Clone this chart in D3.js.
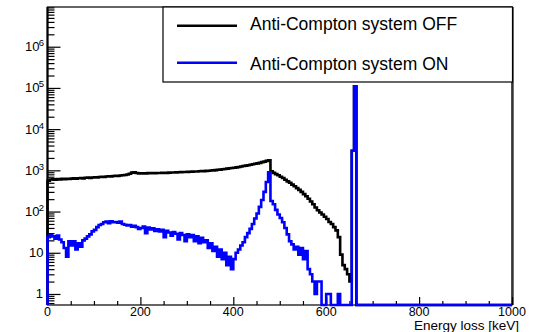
<!DOCTYPE html>
<html>
<head>
<meta charset="utf-8">
<script src="https://cdn.jsdelivr.net/npm/d3@7"></script>
<style>
  html, body { margin: 0; padding: 0; background: #fff; }
  svg { display: block; font-family: "Liberation Sans", Arial, Helvetica, sans-serif; }
</style>
</head>
<body>
<div id="chart"></div>
<script>
// ---- data: 5 keV bins starting at 0 keV (bin i = [5i, 5i+5)) ----
const BIN_WIDTH = 5;

// Anti-Compton system OFF
const offCounts = [
  560, 600, 610, 590, 615, 605, 620, 610, 625, 615,          // 0-45
  630, 640, 625, 645, 650, 640, 660, 665, 655, 670,          // 50-95
  680, 670, 690, 700, 690, 710, 720, 715, 730, 740,          // 100-145
  735, 750, 760, 770, 790, 830, 880, 900, 860, 845,          // 150-195
  840, 850, 845, 855, 850, 860, 855, 865, 860, 870,          // 200-245
  875, 870, 880, 885, 890, 895, 900, 905, 910, 915,          // 250-295
  920, 925, 930, 935, 940, 950, 955, 960, 970, 980,          // 300-345
  990, 1000, 1010, 1030, 1040, 1060, 1080, 1100, 1120, 1140, // 350-395
  1160, 1180, 1210, 1240, 1270, 1300, 1330, 1370, 1400, 1440,// 400-445
  1480, 1520, 1580, 1630, 1700, 1760, 950, 870, 810, 760,    // 450-495
  700, 650, 590, 540, 500, 450, 410, 370, 335, 300,          // 500-545
  265, 235, 205, 175, 150, 125, 108, 95, 85, 75,             // 550-595
  66, 56, 50, 42, 35, 24, 9, 5, 4, 3,                        // 600-645
  2, 3000, 110000, 0                                         // 650-665
];

// Anti-Compton system ON
const onCounts = [
  24, 27, 25, 22, 26, 21, 18, 13, 8, 19,                     // 0-45
  15, 19, 12, 17, 14, 20, 22, 25, 28, 33,                    // 50-95
  36, 42, 47, 50, 55, 57, 52, 58, 55, 56,                    // 100-145
  54, 57, 50, 48, 46, 47, 43, 45, 42, 38,                    // 150-195
  40, 43, 30, 41, 37, 39, 34, 37, 33, 36,                    // 200-245
  24, 34, 31, 26, 32, 29, 21, 30, 27, 19,                    // 250-295
  28, 24, 27, 19, 25, 17, 23, 18, 20, 13,                    // 300-345
  17, 11, 14, 8, 12, 7, 10, 5, 8, 4,                         // 350-395
  7, 10, 12, 15, 18, 24, 30, 38, 50, 68,                     // 400-445
  90, 130, 190, 300, 520, 900, 180, 150, 110, 85,            // 450-495
  70, 55, 40, 28, 19, 16, 12, 14, 9, 13,                     // 500-545
  7, 11, 4, 3, 2, 1, 2, 2, 0, 0,                             // 550-595
  1, 1, 0, 0, 0, 1, 0, 0, 0, 0,                              // 600-645
  0, 3000, 110000, 0                                         // 650-665
];

const seriesNames = ['Anti-Compton system OFF', 'Anti-Compton system ON'];
const seriesColors = ['#000000', '#0000ff'];
const xTickValues = [0, 200, 400, 600, 800, 1000];
const yDecades = [0, 1, 2, 3, 4, 5, 6];
const xTitle = 'Energy loss [keV]';

// ---- layout ----
const width = 537, height = 332;
const frame = { left: 47.5, right: 512, top: 7, bottom: 305 };

const svg = d3.select('#chart')
  .append('svg')
  .attr('width', width)
  .attr('height', height);

// scales
const x = d3.scaleLinear().domain([0, 1000]).range([frame.left, frame.right]);
const y = d3.scaleLog().domain([0.54, 9.2e6]).range([frame.bottom, frame.top]);

// empty bins sit on the bottom of the frame (log scale)
const yv = v => v > 0 ? Math.max(y(v), frame.top) : frame.bottom;

// step outline of a histogram
function histPoints(counts) {
  const pts = [[0, 0]];
  counts.forEach((c, i) => {
    pts.push([i * BIN_WIDTH, c]);
    pts.push([(i + 1) * BIN_WIDTH, c]);
  });
  pts.push([1000, 0]);
  return pts;
}

const line = d3.line()
  .x(d => x(d[0]))
  .y(d => yv(d[1]));

// frame
svg.append('rect')
  .attr('x', frame.left)
  .attr('y', frame.top)
  .attr('width', frame.right - frame.left)
  .attr('height', frame.bottom - frame.top)
  .attr('fill', 'none')
  .attr('stroke', '#000')
  .attr('stroke-width', 1.2);

// slightly heavier right edge, as in the original
svg.append('line')
  .attr('x1', frame.right + 0.6).attr('x2', frame.right + 0.6)
  .attr('y1', frame.top).attr('y2', frame.bottom)
  .attr('stroke', '#333')
  .attr('stroke-width', 2.2);

// y axis: major + minor ticks pointing into the frame
const yMinor = [];
for (let n = -1; n <= 6; n++) {
  for (let k = 2; k <= 9; k++) {
    const v = k * Math.pow(10, n);
    if (v >= y.domain()[0] && v <= y.domain()[1]) yMinor.push(v);
  }
}
const yAxisG = svg.append('g').attr('transform', `translate(${frame.left},0)`);
yAxisG.call(d3.axisLeft(y).tickValues(yDecades.map(n => Math.pow(10, n))).tickSize(-13).tickFormat(''));
yAxisG.call(g => g.append('g').call(d3.axisLeft(y).tickValues(yMinor).tickSize(-7).tickFormat('')));
yAxisG.selectAll('.domain').remove();
yAxisG.selectAll('line').attr('stroke', '#000').attr('stroke-width', 1.2);

// x axis
const xMinor = d3.range(50, 1000, 50).filter(v => v % 200 !== 0);
const xAxisG = svg.append('g').attr('transform', `translate(0,${frame.bottom})`);
xAxisG.call(d3.axisBottom(x).tickValues(xTickValues).tickSize(-8).tickFormat(''));
xAxisG.call(g => g.append('g').call(d3.axisBottom(x).tickValues(xMinor).tickSize(-4).tickFormat('')));
xAxisG.selectAll('.domain').remove();
xAxisG.selectAll('line').attr('stroke', '#000').attr('stroke-width', 1.2);

// thick left axis line
svg.append('line')
  .attr('x1', frame.left).attr('x2', frame.left)
  .attr('y1', frame.top).attr('y2', frame.bottom)
  .attr('stroke', '#000')
  .attr('stroke-width', 2.2);

// histograms (OFF first, ON on top)
[offCounts, onCounts].forEach((counts, i) => {
  svg.append('path')
    .attr('d', line(histPoints(counts)))
    .attr('fill', 'none')
    .attr('stroke', seriesColors[i])
    .attr('stroke-width', 2.6)
    .attr('stroke-linejoin', 'miter');
});

// y tick labels: 1, 10, 10^n
yDecades.forEach(n => {
  const yy = y(Math.pow(10, n));
  if (n === 0) {
    svg.append('text').attr('x', 43).attr('y', yy + 4.5)
      .attr('text-anchor', 'end').style('font-size', '13px').text('1');
  } else if (n === 1) {
    svg.append('text').attr('x', 43.5).attr('y', yy + 4.5)
      .attr('text-anchor', 'end').style('font-size', '13px').text('10');
  } else {
    svg.append('text').attr('x', 39.5).attr('y', yy + 4.5)
      .attr('text-anchor', 'end').style('font-size', '13px').text('10');
    svg.append('text').attr('x', 38.8).attr('y', yy - 0.5)
      .attr('text-anchor', 'start').style('font-size', '9.5px').text(n);
  }
});

// x tick labels
xTickValues.forEach(v => {
  svg.append('text')
    .attr('x', x(v))
    .attr('y', 315.5)
    .attr('text-anchor', 'middle')
    .style('font-size', '12.5px')
    .text(v);
});

// x axis title
svg.append('text')
  .attr('x', 519)
  .attr('y', 329.8)
  .attr('text-anchor', 'end')
  .style('font-size', '13.5px')
  .text(xTitle);

// legend
const legend = svg.append('g');
legend.append('rect')
  .attr('x', 163)
  .attr('y', frame.top)
  .attr('width', frame.right + 0.5 - 163)
  .attr('height', 75)
  .attr('fill', '#fff')
  .attr('stroke', '#000')
  .attr('stroke-width', 1.2);

const legendRows = [{ ly: 25.7, ty: 29.5 }, { ly: 62.7, ty: 70 }];
seriesNames.forEach((name, i) => {
  legend.append('line')
    .attr('x1', 177).attr('x2', 237)
    .attr('y1', legendRows[i].ly).attr('y2', legendRows[i].ly)
    .attr('stroke', seriesColors[i])
    .attr('stroke-width', 2.6);
  legend.append('text')
    .attr('x', 250)
    .attr('y', legendRows[i].ty)
    .style('font-size', '17.5px')
    .text(name);
});
</script>
</body>
</html>
